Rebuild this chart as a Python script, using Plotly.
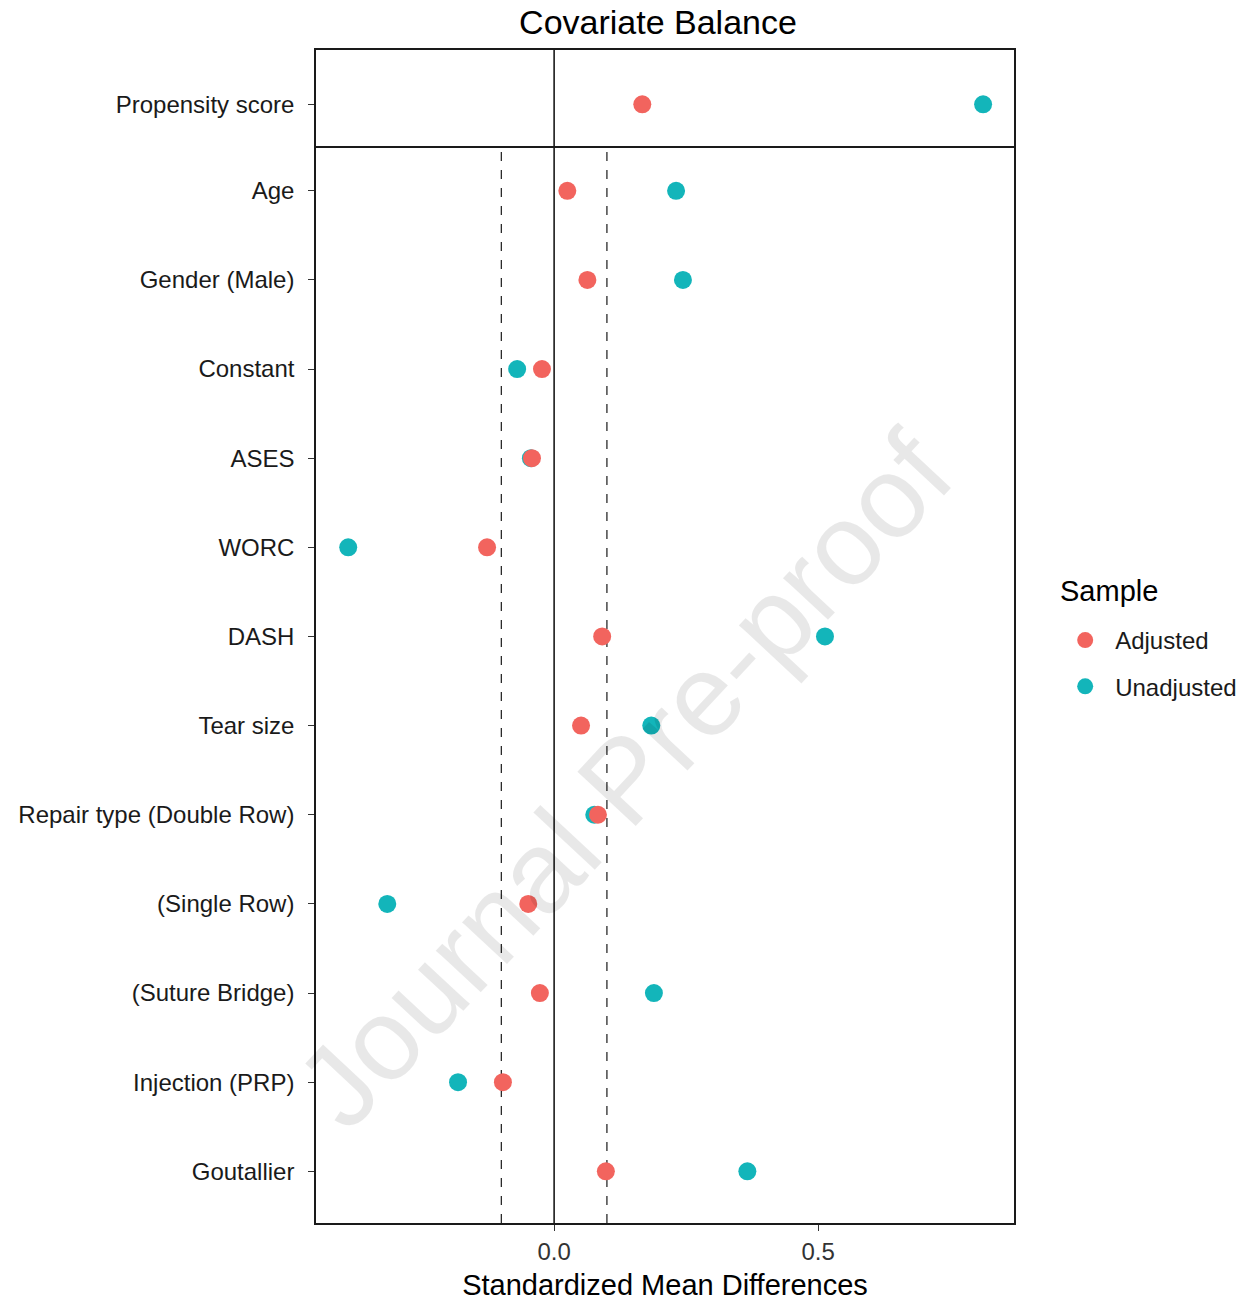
import plotly.graph_objects as go

# Covariates (bottom panel listed top to bottom)
covariates = ["Age", "Gender (Male)", "Constant", "ASES", "WORC", "DASH",
              "Tear size", "Repair type (Double Row)", "(Single Row)",
              "(Suture Bridge)", "Injection (PRP)", "Goutallier"]
adjusted = [0.025, 0.063, -0.023, -0.042, -0.127, 0.091,
            0.051, 0.083, -0.049, -0.027, -0.097, 0.098]
unadjusted = [0.231, 0.244, -0.070, -0.044, -0.390, 0.513,
              0.184, 0.076, -0.316, 0.189, -0.182, 0.366]

# Propensity score (top panel)
ps_label = "Propensity score"
ps_adjusted = 0.167
ps_unadjusted = 0.8125

threshold = 0.1
x_ticks = [0.0, 0.5]
x_tick_labels = ["0.0", "0.5"]

RED = "#F2645E"
TEAL = "#13B5BA"
FONT = "Liberation Sans, Arial, sans-serif"
MSIZE = 18

n = len(covariates)
ypos = [n - i for i in range(n)]

fig = go.Figure()

# Unadjusted first so adjusted points sit on top
fig.add_trace(go.Scatter(
    x=unadjusted, y=ypos, mode="markers", name="Unadjusted",
    marker=dict(color=TEAL, size=MSIZE), xaxis="x", yaxis="y",
    legendgroup="u", legendrank=2, cliponaxis=False))
fig.add_trace(go.Scatter(
    x=[ps_unadjusted], y=[0], mode="markers", name="Unadjusted",
    marker=dict(color=TEAL, size=MSIZE), xaxis="x2", yaxis="y2",
    legendgroup="u", showlegend=False, cliponaxis=False))
fig.add_trace(go.Scatter(
    x=adjusted, y=ypos, mode="markers", name="Adjusted",
    marker=dict(color=RED, size=MSIZE), xaxis="x", yaxis="y",
    legendgroup="a", legendrank=1, cliponaxis=False))
fig.add_trace(go.Scatter(
    x=[ps_adjusted], y=[0], mode="markers", name="Adjusted",
    marker=dict(color=RED, size=MSIZE), xaxis="x2", yaxis="y2",
    legendgroup="a", showlegend=False, cliponaxis=False))

x_range = [-0.451, 0.871]
top_frac = 98 / 1173

LINE = dict(showline=True, linecolor="#1a1a1a", linewidth=1.5,
            showgrid=False, zeroline=False, automargin=False)
YTICK = dict(ticks="outside", ticklen=6, tickcolor="#333", tickwidth=1.3,
             ticklabelstandoff=9, tickfont=dict(size=24, color="#1a1a1a"))

fig.update_layout(
    width=1253, height=1303,
    margin=dict(l=316, r=239, t=50, b=80, autoexpand=False),
    paper_bgcolor="white", plot_bgcolor="white",
    font=dict(family=FONT, color="#1a1a1a"),
    title=dict(text="Covariate Balance", x=658 / 1253,
               xanchor="center", y=1 - 22 / 1303, yanchor="middle",
               font=dict(size=34, color="black")),
    xaxis=dict(range=x_range, domain=[0, 1], anchor="y", mirror=True,
               tickvals=x_ticks, ticktext=x_tick_labels,
               ticks="outside", ticklen=6, tickcolor="#333", tickwidth=1.3,
               tickfont=dict(size=24, color="#333"),
               title=dict(text="Standardized Mean Differences",
                          font=dict(size=29, color="black"), standoff=11),
               **LINE),
    # top panel: only its upper border; the lower one is shared with the panel below
    xaxis2=dict(range=x_range, domain=[0, 1], anchor="y2", matches="x",
                side="top", mirror=False,
                showticklabels=False, ticks="", **LINE),
    yaxis=dict(domain=[0, 1 - top_frac], range=[0.42, n + 0.48],
               tickvals=ypos, ticktext=covariates, mirror=True,
               **YTICK, **LINE),
    yaxis2=dict(domain=[1 - top_frac, 1], range=[-0.49, 0.61],
                tickvals=[0], ticktext=[ps_label], mirror=True,
                **YTICK, **LINE),
    legend=dict(x=1.059, y=(1223 - 618) / 1173, xanchor="left", yanchor="top",
                font=dict(size=24, color="#1a1a1a"),
                tracegroupgap=12, itemsizing="trace", itemwidth=50,
                bgcolor="rgba(0,0,0,0)"),
    showlegend=True,
)

# Legend heading
fig.add_annotation(text="Sample", xref="paper", yref="paper",
                   x=(1058 - 316) / 698, y=(1223 - 591) / 1173,
                   xanchor="left", yanchor="middle", showarrow=False,
                   font=dict(size=29, family=FONT, color="black"))

# Reference line at zero in both panels
for xr, yr in (("x", "y domain"), ("x2", "y2 domain")):
    fig.add_shape(type="line", xref=xr, yref=yr, x0=0, x1=0, y0=0, y1=1,
                  line=dict(color="#1a1a1a", width=1.6), layer="below")

# Balance thresholds in the covariate panel
for t in (-threshold, threshold):
    fig.add_shape(type="line", xref="x", yref="y domain", x0=t, x1=t,
                  y0=0, y1=1, line=dict(color="#1a1a1a", width=1.2, dash="dash"),
                  layer="below")

# Watermark
fig.add_annotation(text="Journal Pre-proof", xref="paper", yref="paper",
                   x=(624 - 316) / 698, y=(1223 - 780) / 1173,
                   showarrow=False, textangle=-47,
                   font=dict(size=116, family=FONT, color="rgba(0,0,0,0.09)"))

fig.write_html("out.html")
